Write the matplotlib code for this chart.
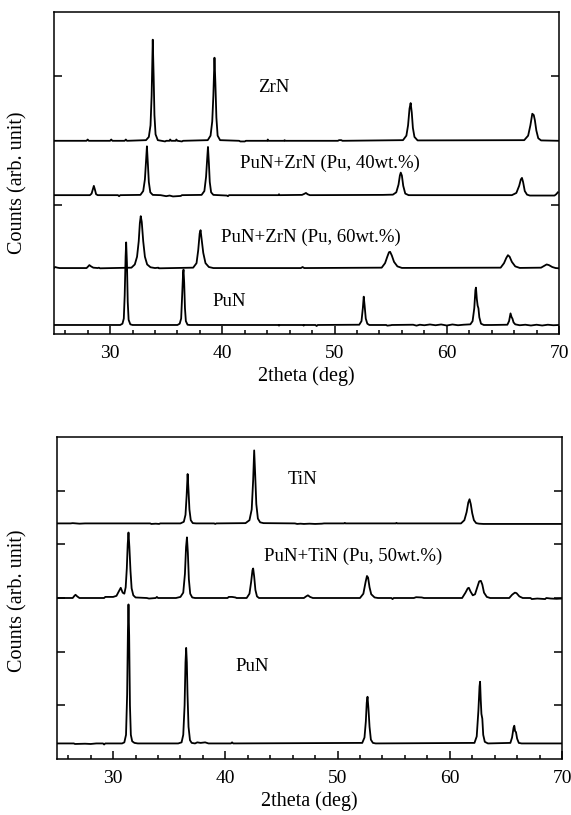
import matplotlib
matplotlib.use("Agg")
import matplotlib.pyplot as plt
from matplotlib.ticker import MultipleLocator

plt.rcParams["font.family"] = ["Liberation Serif", "DejaVu Serif"]

# x-ray patterns as (2theta, counts) points, offsets included
# top panel (y range 0-2.5)
zrn = [
    (25.0, 1.50), (27.9, 1.50), (28.0, 1.51), (28.1, 1.50),
    (30.0, 1.50), (30.1, 1.51), (30.2, 1.50),
    (31.3, 1.50), (31.4, 1.51), (31.5, 1.50),
    (33.2, 1.505), (33.45, 1.53), (33.6, 1.62), (33.7, 1.85), (33.8, 2.285),
    (33.88, 2.0), (33.95, 1.7), (34.05, 1.55), (34.25, 1.505),
    (34.9, 1.495), (35.0, 1.50), (35.3, 1.50), (35.35, 1.51), (35.45, 1.50),
    (35.85, 1.50), (35.9, 1.51), (36.0, 1.50), (36.4, 1.495), (36.5, 1.50),
    (38.7, 1.505), (38.95, 1.54), (39.1, 1.65), (39.2, 1.85), (39.3, 2.145),
    (39.38, 1.95), (39.47, 1.68), (39.58, 1.54), (39.8, 1.505),
    (41.5, 1.50), (41.6, 1.495), (42.0, 1.495), (42.1, 1.50),
    (44.0, 1.50), (44.05, 1.51), (44.1, 1.50), (45.5, 1.50), (45.55, 1.505), (45.6, 1.50),
    (50.3, 1.50), (50.4, 1.505), (50.6, 1.505), (50.7, 1.50),
    (56.1, 1.505), (56.4, 1.54), (56.55, 1.62), (56.68, 1.75), (56.78, 1.793),
    (56.88, 1.72), (56.98, 1.6), (57.12, 1.53), (57.4, 1.503),
    (66.9, 1.505), (67.25, 1.54), (67.45, 1.62), (67.62, 1.71), (67.75, 1.70),
    (67.85, 1.66), (67.98, 1.58), (68.15, 1.52), (68.4, 1.503),
    (70.0, 1.50),
]

pun_zrn_40 = [
    (25.0, 1.078), (28.2, 1.078), (28.35, 1.09), (28.45, 1.12), (28.55, 1.15),
    (28.65, 1.12), (28.75, 1.085), (28.9, 1.078),
    (30.7, 1.078), (30.8, 1.07), (30.9, 1.078),
    (32.7, 1.08), (32.95, 1.11), (33.1, 1.2), (33.2, 1.34), (33.28, 1.457),
    (33.36, 1.33), (33.45, 1.18), (33.58, 1.1), (33.8, 1.08),
    (34.5, 1.078), (35.0, 1.07), (35.3, 1.075), (35.6, 1.068), (36.3, 1.072), (36.4, 1.078),
    (38.15, 1.08), (38.4, 1.11), (38.55, 1.22), (38.65, 1.36), (38.72, 1.452),
    (38.8, 1.33), (38.88, 1.18), (39.0, 1.1), (39.2, 1.08),
    (40.4, 1.075), (40.5, 1.07), (40.6, 1.078),
    (45.0, 1.078), (45.05, 1.085), (45.1, 1.078),
    (47.1, 1.08), (47.3, 1.088), (47.45, 1.095), (47.6, 1.085), (47.8, 1.078),
    (54.3, 1.08), (55.2, 1.082), (55.5, 1.1), (55.7, 1.16), (55.82, 1.23),
    (55.9, 1.253), (56.0, 1.23), (56.12, 1.15), (56.3, 1.09), (56.6, 1.078),
    (65.8, 1.078), (66.2, 1.095), (66.45, 1.15), (66.6, 1.2), (66.7, 1.212),
    (66.8, 1.18), (66.95, 1.11), (67.15, 1.082), (67.4, 1.075),
    (69.6, 1.075), (69.75, 1.085), (69.9, 1.10),
]

pun_zrn_60 = [
    (25.0, 0.512), (25.1, 0.52), (25.3, 0.515), (25.5, 0.512),
    (27.9, 0.512), (28.05, 0.525), (28.15, 0.535), (28.3, 0.525), (28.5, 0.515),
    (28.9, 0.512), (29.0, 0.515), (29.1, 0.51),
    (31.9, 0.515), (32.2, 0.54), (32.4, 0.6), (32.55, 0.72), (32.65, 0.86),
    (32.73, 0.915), (32.82, 0.87), (32.95, 0.72), (33.1, 0.6), (33.3, 0.54),
    (33.6, 0.518), (34.0, 0.512), (34.3, 0.515), (34.35, 0.51),
    (37.4, 0.515), (37.7, 0.55), (37.85, 0.65), (37.98, 0.78), (38.06, 0.806),
    (38.15, 0.74), (38.3, 0.63), (38.5, 0.55), (38.8, 0.52), (39.2, 0.512),
    (47.0, 0.512), (47.15, 0.52), (47.3, 0.512),
    (54.2, 0.515), (54.5, 0.55), (54.7, 0.6), (54.85, 0.635), (54.95, 0.638),
    (55.1, 0.61), (55.3, 0.56), (55.6, 0.525), (56.0, 0.513),
    (64.8, 0.515), (65.1, 0.55), (65.3, 0.59), (65.45, 0.612), (65.6, 0.6),
    (65.8, 0.56), (66.1, 0.525), (66.5, 0.513),
    (68.4, 0.515), (68.7, 0.53), (68.9, 0.54), (69.1, 0.535), (69.4, 0.52),
    (69.7, 0.512), (70.0, 0.51),
]

pun_top = [
    (25.0, 0.07), (30.9, 0.07), (31.1, 0.08), (31.22, 0.12), (31.3, 0.3),
    (31.38, 0.6), (31.43, 0.711), (31.5, 0.55), (31.57, 0.25), (31.65, 0.11),
    (31.8, 0.075), (32.0, 0.07),
    (36.0, 0.07), (36.2, 0.08), (36.33, 0.12), (36.42, 0.3), (36.5, 0.47),
    (36.54, 0.50), (36.6, 0.4), (36.67, 0.2), (36.75, 0.1), (36.9, 0.072), (37.1, 0.07),
    (45.0, 0.07), (45.05, 0.065), (45.1, 0.07),
    (47.2, 0.07), (47.25, 0.065), (47.3, 0.07), (48.3, 0.07), (48.4, 0.062), (48.5, 0.07),
    (52.2, 0.072), (52.4, 0.1), (52.52, 0.2), (52.6, 0.29), (52.68, 0.22),
    (52.78, 0.12), (52.92, 0.08), (53.1, 0.07),
    (54.6, 0.07), (54.7, 0.065), (55.0, 0.068), (55.1, 0.07),
    (57.0, 0.072), (57.3, 0.065), (57.6, 0.072), (58.0, 0.068), (58.5, 0.074),
    (59.0, 0.068), (59.5, 0.074), (60.0, 0.066), (60.5, 0.074), (61.0, 0.068), (61.5, 0.072),
    (62.1, 0.075), (62.3, 0.1), (62.45, 0.2), (62.55, 0.34), (62.6, 0.36),
    (62.68, 0.27), (62.75, 0.22), (62.82, 0.2), (62.9, 0.13), (63.05, 0.08), (63.3, 0.07),
    (64.0, 0.07), (65.4, 0.072), (65.55, 0.1), (65.68, 0.16), (65.78, 0.13),
    (65.85, 0.12), (65.95, 0.09), (66.1, 0.075),
    (66.5, 0.068), (67.0, 0.072), (67.5, 0.066), (68.0, 0.072), (68.5, 0.066),
    (69.0, 0.072), (69.5, 0.068), (70.0, 0.07),
]

# bottom panel (y range 0-6)
tin = [
    (25.0, 4.39), (26.2, 4.39), (26.4, 4.395), (27.0, 4.385), (27.5, 4.39),
    (33.3, 4.39), (33.4, 4.38), (33.8, 4.385), (34.1, 4.38), (34.2, 4.39),
    (36.0, 4.39), (36.3, 4.42), (36.45, 4.55), (36.55, 4.9), (36.64, 5.31),
    (36.72, 5.0), (36.8, 4.65), (36.92, 4.45), (37.1, 4.395), (37.4, 4.39),
    (39.0, 4.39), (39.1, 4.38), (39.2, 4.39),
    (41.8, 4.395), (42.15, 4.45), (42.35, 4.65), (42.48, 5.2), (42.57, 5.75),
    (42.66, 5.3), (42.76, 4.75), (42.9, 4.48), (43.1, 4.41), (43.4, 4.395),
    (46.2, 4.39), (46.4, 4.38), (46.7, 4.385), (47.0, 4.38), (47.5, 4.385),
    (48.0, 4.38), (48.6, 4.385), (48.8, 4.39),
    (50.6, 4.39), (50.65, 4.40), (50.7, 4.39), (55.2, 4.39), (55.25, 4.40), (55.3, 4.39),
    (61.0, 4.39), (61.3, 4.45), (61.5, 4.6), (61.65, 4.78), (61.76, 4.84),
    (61.87, 4.75), (62.0, 4.58), (62.15, 4.45), (62.35, 4.395), (62.6, 4.385),
    (63.0, 4.38), (70.0, 4.38),
]

pun_tin_50 = [
    (25.0, 3.0), (26.4, 3.0), (26.55, 3.04), (26.65, 3.06), (26.8, 3.03), (27.0, 3.0),
    (29.2, 3.0), (29.3, 3.02), (30.0, 3.02), (30.3, 3.04), (30.5, 3.12),
    (30.68, 3.19), (30.85, 3.1), (31.0, 3.08), (31.12, 3.2), (31.22, 3.55),
    (31.3, 4.0), (31.37, 4.22), (31.45, 3.95), (31.55, 3.5), (31.65, 3.18),
    (31.8, 3.05), (32.0, 3.01),
    (33.0, 3.0), (33.2, 2.99), (33.8, 3.0), (33.9, 3.02), (34.0, 3.0),
    (35.6, 3.0), (36.0, 3.02), (36.25, 3.1), (36.4, 3.45), (36.5, 3.95),
    (36.58, 4.13), (36.66, 3.85), (36.75, 3.35), (36.87, 3.08), (37.05, 3.01), (37.3, 3.0),
    (40.2, 3.0), (40.3, 3.02), (40.6, 3.02), (40.9, 3.01), (41.0, 3.0),
    (41.9, 3.0), (42.15, 3.08), (42.3, 3.3), (42.42, 3.52), (42.48, 3.55),
    (42.57, 3.4), (42.68, 3.15), (42.82, 3.03), (43.0, 3.0),
    (47.0, 3.0), (47.2, 3.03), (47.36, 3.05), (47.55, 3.02), (47.8, 3.0),
    (52.0, 3.0), (52.3, 3.08), (52.5, 3.3), (52.62, 3.41), (52.72, 3.38),
    (52.85, 3.2), (53.0, 3.07), (53.3, 3.01), (53.6, 3.0),
    (54.8, 3.0), (54.9, 2.98), (55.0, 3.0),
    (56.8, 3.0), (57.0, 3.015), (57.5, 3.01), (57.7, 3.0),
    (61.1, 3.0), (61.4, 3.1), (61.6, 3.18), (61.7, 3.19), (61.85, 3.12),
    (62.05, 3.05), (62.25, 3.07), (62.45, 3.2), (62.62, 3.31), (62.77, 3.32),
    (62.9, 3.25), (63.05, 3.1), (63.3, 3.02), (63.6, 3.0),
    (65.3, 3.0), (65.55, 3.06), (65.8, 3.1), (65.95, 3.09), (66.2, 3.03), (66.5, 3.0),
    (67.2, 3.0), (67.3, 2.98), (67.8, 2.99), (68.5, 2.98), (68.6, 3.0),
    (69.0, 2.99), (69.5, 2.985), (70.0, 2.99),
]

pun_bottom = [
    (25.0, 0.29), (26.5, 0.29), (26.6, 0.28), (27.5, 0.285), (28.0, 0.28),
    (28.5, 0.29), (29.1, 0.29), (29.2, 0.27), (29.3, 0.29), (30.8, 0.29),
    (31.0, 0.31), (31.15, 0.45), (31.25, 1.2), (31.32, 2.4), (31.37, 2.88),
    (31.43, 2.3), (31.5, 1.0), (31.58, 0.45), (31.7, 0.33), (31.9, 0.3), (32.2, 0.29),
    (35.8, 0.29), (36.1, 0.31), (36.25, 0.45), (36.37, 1.0), (36.45, 1.8),
    (36.51, 2.07), (36.57, 1.8), (36.63, 1.2), (36.72, 0.6), (36.85, 0.35), (37.0, 0.3),
    (37.3, 0.29), (37.5, 0.31), (37.8, 0.3), (38.2, 0.31), (38.5, 0.29),
    (40.5, 0.29), (40.6, 0.31), (40.7, 0.29),
    (52.2, 0.3), (52.4, 0.4), (52.52, 0.7), (52.6, 1.05), (52.67, 1.16),
    (52.75, 0.95), (52.85, 0.6), (52.97, 0.36), (53.15, 0.3), (53.4, 0.29),
    (62.2, 0.3), (62.4, 0.42), (62.55, 0.9), (62.65, 1.35), (62.7, 1.44),
    (62.76, 1.1), (62.82, 0.84), (62.9, 0.75), (62.98, 0.45), (63.12, 0.32), (63.4, 0.29),
    (65.4, 0.3), (65.55, 0.4), (65.68, 0.58), (65.75, 0.62), (65.82, 0.52),
    (65.9, 0.5), (66.0, 0.38), (66.15, 0.3), (66.4, 0.29),
    (70.0, 0.29),
]

top_labels = [("ZrN", 44.6, 1.915), ("PuN+ZrN (Pu, 40wt.%)", 49.6, 1.325),
              ("PuN+ZrN (Pu, 60wt.%)", 47.9, 0.75), ("PuN", 40.6, 0.256)]
bottom_labels = [("TiN", 46.9, 5.2), ("PuN+TiN (Pu, 50wt.%)", 51.4, 3.77),
                 ("PuN", 42.4, 1.72)]

x_range = (25, 70)
x_ticks = [30, 40, 50, 60, 70]


def style_axes(ax, ylim, yticks, label_x, label_y):
    ax.set_xlim(*x_range)
    ax.set_ylim(*ylim)
    ax.set_xticks(x_ticks)
    ax.xaxis.set_minor_locator(MultipleLocator(2))
    ax.set_yticks(yticks)
    ax.set_yticklabels([])
    ax.tick_params(axis="both", which="both", direction="in", width=1.1,
                   labelsize=14, pad=8)
    ax.tick_params(axis="x", which="both", top=False)
    ax.tick_params(axis="y", which="both", right=True)
    ax.tick_params(which="major", length=6)
    ax.tick_params(which="minor", length=3)
    for spine in ax.spines.values():
        spine.set_linewidth(1.1)
    ax.set_xlabel("2theta (deg)", fontsize=14.5, labelpad=3)
    ax.set_ylabel("Counts (arb. unit)", fontsize=14.5)
    ax.yaxis.set_label_coords(label_x, label_y)


fig = plt.figure(figsize=(5.71, 8.15), dpi=100)
ax_top = fig.add_axes([54 / 571, 481 / 815, 505 / 571, 322 / 815])
ax_bot = fig.add_axes([57 / 571, 56 / 815, 505 / 571, 322 / 815])

for trace in (zrn, pun_zrn_40, pun_zrn_60, pun_top):
    xs, ys = zip(*trace)
    ax_top.plot(xs, ys, color="black", lw=1.3)
for text, x, y in top_labels:
    ax_top.text(x, y, text, ha="center", va="center", fontsize=13.5)
style_axes(ax_top, (0, 2.5), [1, 2], -0.052, 0.47)

for trace in (tin, pun_tin_50, pun_bottom):
    xs, ys = zip(*trace)
    ax_bot.plot(xs, ys, color="black", lw=1.3)
for text, x, y in bottom_labels:
    ax_bot.text(x, y, text, ha="center", va="center", fontsize=13.5)
style_axes(ax_bot, (0, 6), [1, 2, 3, 4, 5], -0.058, 0.49)

fig.savefig("out.png", dpi=100)
plt.close(fig)
